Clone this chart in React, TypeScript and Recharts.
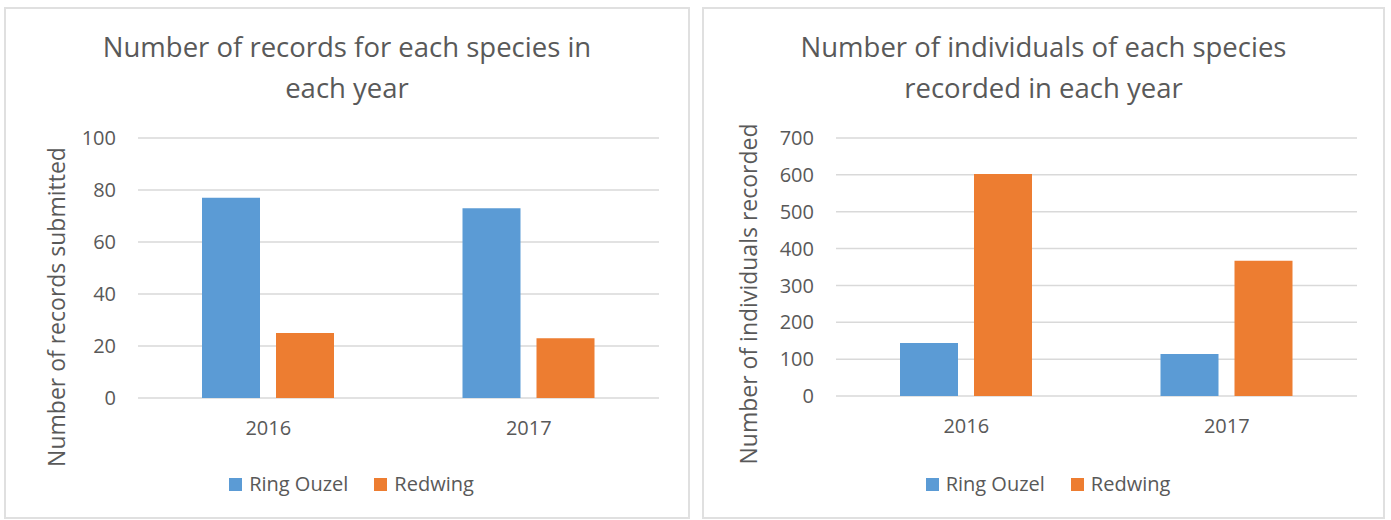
import { Bar, BarChart, CartesianGrid, Legend, XAxis, YAxis } from 'recharts';

// survey results per year
const YEARS = ['2016', '2017'];
const SPECIES = ['Ring Ouzel', 'Redwing'];
const COLORS = ['#5B9BD5', '#ED7D31'];

const RECORDS_RING_OUZEL = [77, 73];
const RECORDS_REDWING = [25, 23];
const RECORDS_TICKS = [0, 20, 40, 60, 80, 100];

const INDIVIDUALS_RING_OUZEL = [144, 114];
const INDIVIDUALS_REDWING = [602, 367];
const INDIVIDUALS_TICKS = [0, 100, 200, 300, 400, 500, 600, 700];

const FONT = '"Open Sans", "Noto Sans", sans-serif';
const TEXT = '#595959';
const GRID = '#d9d9d9';

const toRows = (a: number[], b: number[]) =>
  YEARS.map((year, i) => ({ year, ringOuzel: a[i], redwing: b[i] }));

function LegendBox() {
  return (
    <div
      style={{
        display: 'flex',
        justifyContent: 'center',
        alignItems: 'center',
        gap: 26,
        paddingLeft: 9,
        fontFamily: FONT,
        fontSize: 20,
        color: TEXT,
        lineHeight: '28px',
      }}
    >
      {SPECIES.map((name, i) => (
        <div key={name} style={{ display: 'flex', alignItems: 'center' }}>
          <span style={{ width: 13, height: 13, background: COLORS[i], marginRight: 7 }} />
          <span>{name}</span>
        </div>
      ))}
    </div>
  );
}

interface PanelProps {
  left: number;
  width: number;
  title: string[];
  yTitle: string;
  yTitleX: number;
  yTitleShift: number;
  rows: { year: string; ringOuzel: number; redwing: number }[];
  ticks: number[];
  axisWidth: number;
  marginRight: number;
  marginBottom: number;
}

function Panel({ left, width, title, yTitle, yTitleX, yTitleShift, rows, ticks, axisWidth, marginRight, marginBottom }: PanelProps) {
  const height = 512;
  return (
    <div
      style={{
        position: 'absolute',
        left,
        top: 7,
        width,
        height,
        boxSizing: 'border-box',
        border: `2px solid #e0e0e0`,
        background: '#fff',
      }}
    >
      <div
        style={{
          position: 'absolute',
          left: 0,
          top: 17,
          width: '100%',
          textAlign: 'center',
          fontFamily: FONT,
          fontSize: 27.5,
          lineHeight: '41px',
          color: TEXT,
        }}
      >
        {title.map((line) => (
          <div key={line}>{line}</div>
        ))}
      </div>
      <div style={{ position: 'absolute', left: -2, top: -2 }}>
        <BarChart
          width={width}
          height={height}
          data={rows}
          margin={{ top: 131, right: marginRight, bottom: marginBottom, left: 0 }}
          barSize={58}
          barGap={16}
        >
          <CartesianGrid vertical={false} stroke={GRID} strokeWidth={1.5} />
          <XAxis
            dataKey="year"
            height={50}
            axisLine={false}
            tickLine={false}
            tickSize={0}
            tickMargin={23}
            tick={{ fill: TEXT, fontSize: 20, fontFamily: FONT }}
          />
          <YAxis
            width={axisWidth}
            domain={[ticks[0], ticks[ticks.length - 1]]}
            ticks={ticks}
            interval={0}
            axisLine={false}
            tickLine={false}
            tickSize={0}
            tickMargin={22}
            tick={{ fill: TEXT, fontSize: 20, fontFamily: FONT }}
            label={(props: any) => {
              const vb = props.viewBox || { y: 0, height: 0 };
              const cy = vb.y + vb.height / 2 + yTitleShift;
              return (
                <text
                  x={yTitleX}
                  y={cy}
                  transform={`rotate(-90 ${yTitleX} ${cy})`}
                  textAnchor="middle"
                  fill={TEXT}
                  fontSize={23}
                  fontFamily={FONT}
                >
                  {yTitle}
                </text>
              );
            }}
          />
          <Legend
            verticalAlign="middle"
            align="center"
            content={() => <LegendBox />}
            wrapperStyle={{ top: 463, left: 0, width }}
          />
          <Bar dataKey="ringOuzel" name={SPECIES[0]} fill={COLORS[0]} isAnimationActive={false} />
          <Bar dataKey="redwing" name={SPECIES[1]} fill={COLORS[1]} isAnimationActive={false} />
        </BarChart>
      </div>
    </div>
  );
}

export default function App() {
  return (
    <div style={{ position: 'absolute', left: 0, top: 0, width: 1391, height: 520, background: '#fff' }}>
      <Panel
        left={4}
        width={686}
        title={['Number of records for each species in', 'each year']}
        yTitle="Number of records submitted"
        yTitleX={61}
        yTitleShift={39}
        rows={toRows(RECORDS_RING_OUZEL, RECORDS_REDWING)}
        ticks={RECORDS_TICKS}
        axisWidth={134}
        marginRight={31}
        marginBottom={71}
      />
      <Panel
        left={702}
        width={683}
        title={['Number of individuals of each species', 'recorded in each year']}
        yTitle="Number of individuals recorded"
        yTitleX={55}
        yTitleShift={27}
        rows={toRows(INDIVIDUALS_RING_OUZEL, INDIVIDUALS_REDWING)}
        ticks={INDIVIDUALS_TICKS}
        axisWidth={134}
        marginRight={28}
        marginBottom={73}
      />
    </div>
  );
}
